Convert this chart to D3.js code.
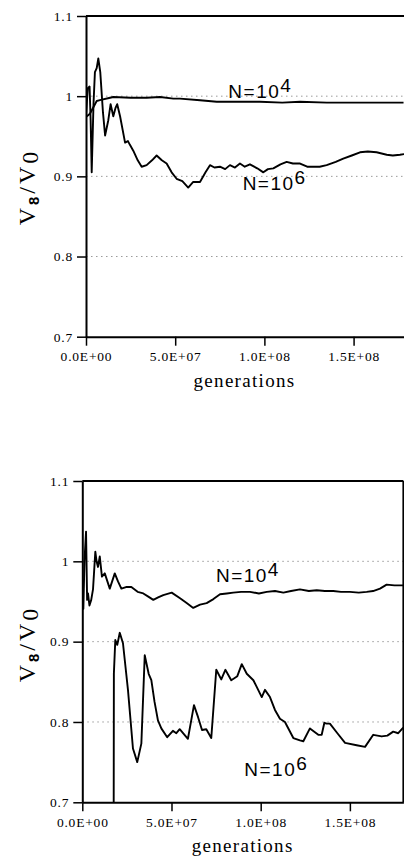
<!DOCTYPE html>
<html>
<head>
<meta charset="utf-8">
<script src="https://cdn.jsdelivr.net/npm/d3@7"></script>
<style>
  html, body { margin: 0; padding: 0; background: #fff; }
  svg { display: block; }
  .serif { font-family: "Liberation Serif", "Times New Roman", Times, "DejaVu Serif", serif; }
  .sans { font-family: "Liberation Sans", Arial, Helvetica, sans-serif; }
</style>
</head>
<body>
<svg id="chart" width="404" height="863"></svg>
<script>
// ---------- DATA ----------
const yTicks = [0.7, 0.8, 0.9, 1.0, 1.1];
const xTicks = [0, 5e7, 1e8, 1.5e8];
const gridValues = [0.8, 0.9, 1.0];
const seriesNames = ["N=10^4", "N=10^6"];

// Top panel, N = 10^4
const topN4Gen = [0, 0.22e7, 0.6e7, 0.78e7, 1.35e7, 1.53e7, 2.5e7, 3.4e7, 4.15e7, 4.9e7, 5.27e7, 6.39e7, 7.33e7, 8.5e7, 9.75e7, 11e7, 12e7, 13.5e7, 14.8e7, 16e7, 17.8e7];
const topN4Val = [0.974, 0.978, 0.994, 0.995, 0.998, 0.999, 0.998, 0.998, 0.999, 0.997, 0.997, 0.995, 0.993, 0.993, 0.993, 0.992, 0.993, 0.992, 0.992, 0.992, 0.992];

// Top panel, N = 10^6
const topN6Gen = [0, 0.1e7, 0.2e7, 0.26e7, 0.32e7, 0.42e7, 0.5e7, 0.6e7, 0.69e7, 0.8e7, 0.95e7, 1.07e7, 1.25e7, 1.38e7, 1.53e7, 1.65e7, 1.75e7, 1.91e7, 2.19e7, 2.35e7, 2.47e7, 2.65e7, 2.9e7, 3.12e7, 3.4e7, 3.7e7, 3.96e7, 4.25e7, 4.52e7, 4.8e7, 5.08e7, 5.4e7, 5.73e7, 6.01e7, 6.39e7, 6.7e7, 6.95e7, 7.2e7, 7.51e7, 7.8e7, 8.07e7, 8.35e7, 8.63e7, 8.9e7, 9.19e7, 9.6e7, 9.94e7, 10.2e7, 10.5e7, 10.9e7, 11.25e7, 11.6e7, 12e7, 12.4e7, 12.74e7, 13.1e7, 13.49e7, 14e7, 14.42e7, 14.9e7, 15.36e7, 15.8e7, 16.29e7, 16.86e7, 17.2e7, 17.6e7, 17.9e7];
const topN6Val = [0.975, 1.01, 1.012, 0.97, 0.905, 0.99, 1.03, 1.035, 1.047, 1.03, 0.98, 0.951, 0.97, 0.99, 0.975, 0.985, 0.99, 0.975, 0.942, 0.944, 0.939, 0.932, 0.92, 0.912, 0.914, 0.92, 0.926, 0.92, 0.916, 0.905, 0.897, 0.894, 0.886, 0.893, 0.893, 0.905, 0.914, 0.911, 0.912, 0.909, 0.914, 0.911, 0.916, 0.912, 0.915, 0.91, 0.905, 0.909, 0.91, 0.915, 0.918, 0.916, 0.916, 0.912, 0.912, 0.912, 0.914, 0.918, 0.922, 0.926, 0.93, 0.931, 0.93, 0.927, 0.926, 0.927, 0.928];

// Bottom panel, N = 10^4
const botN4Gen = [0, 0.06e7, 0.12e7, 0.21e7, 0.27e7, 0.32e7, 0.4e7, 0.5e7, 0.6e7, 0.73e7, 0.8e7, 0.88e7, 0.98e7, 1.1e7, 1.26e7, 1.54e7, 1.82e7, 2.0e7, 2.19e7, 2.45e7, 2.75e7, 3.1e7, 3.42e7, 3.7e7, 3.98e7, 4.25e7, 4.54e7, 5.01e7, 5.48e7, 5.85e7, 6.22e7, 6.6e7, 6.97e7, 7.35e7, 7.72e7, 8.1e7, 8.46e7, 8.9e7, 9.4e7, 9.9e7, 10.34e7, 10.8e7, 11.27e7, 11.7e7, 12.2e7, 12.7e7, 13.14e7, 13.6e7, 14.07e7, 14.5e7, 15e7, 15.5e7, 15.94e7, 16.3e7, 16.69e7, 17.06e7, 17.5e7, 18e7];
const botN4Val = [0.975, 0.941, 1.0, 1.037, 0.952, 0.96, 0.945, 0.952, 0.965, 1.012, 1.0, 0.993, 1.006, 0.981, 0.985, 0.966, 0.985, 0.975, 0.966, 0.968, 0.968, 0.962, 0.96, 0.956, 0.952, 0.955, 0.958, 0.961, 0.954, 0.948, 0.942, 0.946, 0.948, 0.953, 0.959, 0.96, 0.961, 0.962, 0.962, 0.96, 0.962, 0.963, 0.961, 0.963, 0.965, 0.963, 0.964, 0.963, 0.963, 0.962, 0.962, 0.961, 0.962, 0.963, 0.966, 0.971, 0.970, 0.970];

// Bottom panel, N = 10^6
const botN6Gen = [1.76e7, 1.77e7, 1.85e7, 1.96e7, 2.1e7, 2.28e7, 2.56e7, 2.84e7, 3.08e7, 3.31e7, 3.5e7, 3.72e7, 3.87e7, 4.05e7, 4.24e7, 4.43e7, 4.76e7, 5.08e7, 5.27e7, 5.46e7, 5.92e7, 6.26e7, 6.49e7, 6.71e7, 6.95e7, 7.23e7, 7.51e7, 7.79e7, 8.02e7, 8.35e7, 8.69e7, 8.94e7, 9.22e7, 9.59e7, 10.06e7, 10.24e7, 10.52e7, 10.8e7, 11.08e7, 11.36e7, 11.83e7, 12.2e7, 12.39e7, 12.76e7, 13.23e7, 13.42e7, 13.57e7, 13.7e7, 13.88e7, 14.3e7, 14.73e7, 15.38e7, 15.85e7, 16.31e7, 16.78e7, 17.1e7, 17.43e7, 17.71e7, 17.99e7];
const botN6Val = [0.69, 0.86, 0.902, 0.896, 0.911, 0.898, 0.84, 0.767, 0.75, 0.773, 0.883, 0.86, 0.852, 0.825, 0.802, 0.792, 0.781, 0.789, 0.786, 0.791, 0.779, 0.821, 0.806, 0.79, 0.791, 0.78, 0.865, 0.853, 0.865, 0.852, 0.857, 0.872, 0.86, 0.852, 0.831, 0.84, 0.831, 0.815, 0.804, 0.8, 0.78, 0.777, 0.776, 0.792, 0.784, 0.784, 0.799, 0.798, 0.798, 0.786, 0.774, 0.771, 0.769, 0.784, 0.782, 0.783, 0.788, 0.786, 0.793];

// label anchor points (data coordinates)
const topLabelGen = [7.98e7, 8.78e7];
const topLabelVal = [0.998, 0.8825];
const botLabelGen = [7.49e7, 9.08e7];
const botLabelVal = [0.9746, 0.733];

// ---------- DRAW ----------
const svg = d3.select("#chart");
const zip = (xs, ys) => xs.map((x, i) => [x, ys[i]]);

function fmtX(d) {
  if (d === 0) return "0.0E+00";
  const e = Math.floor(Math.log10(d));
  const m = d / Math.pow(10, e);
  return m.toFixed(1) + "E+" + String(e).padStart(2, "0");
}
function fmtY(d) { return Math.abs(d - 1) < 1e-9 ? "1" : d.toFixed(1); }

function panel(id, box, series, labelGen, labelVal, rightBorder) {
  const g = svg.append("g");
  const x = d3.scaleLinear().domain([0, 1.8e8]).range([box.left, box.right]);
  const y = d3.scaleLinear().domain([0.7, 1.1]).range([box.bottom, box.top]);

  svg.append("clipPath").attr("id", "clip" + id)
    .append("rect").attr("x", box.left).attr("y", box.top - 2)
    .attr("width", box.right - box.left).attr("height", box.bottom - box.top + 2);

  g.selectAll(".grid").data(gridValues).enter().append("line")
    .attr("x1", box.left).attr("x2", box.right)
    .attr("y1", d => y(d)).attr("y2", d => y(d))
    .attr("stroke", "#9a9a9a").attr("stroke-width", 1)
    .attr("stroke-dasharray", "1.5,3.5");

  const line = d3.line().x(d => x(d[0])).y(d => y(d[1]));
  g.append("g").attr("clip-path", `url(#clip${id})`)
    .selectAll("path").data(series).enter().append("path")
    .attr("d", d => line(d)).attr("fill", "none")
    .attr("stroke", "#000").attr("stroke-width", 1.9)
    .attr("stroke-linejoin", "round");

  const ya = g.append("g").attr("transform", `translate(${box.left},0)`)
    .call(d3.axisLeft(y).tickValues(yTicks).tickFormat(fmtY).tickSize(9).tickSizeOuter(0).tickPadding(4));
  const xa = g.append("g").attr("transform", `translate(0,${box.bottom})`)
    .call(d3.axisBottom(x).tickValues(xTicks).tickFormat(fmtX).tickSize(9).tickSizeOuter(0).tickPadding(6));
  [ya, xa].forEach(a => {
    a.attr("font-family", null).attr("font-size", null);
    a.select(".domain").attr("stroke-width", 2);
    a.selectAll(".tick line").attr("stroke-width", 1.5);
    a.selectAll("text").attr("class", "serif")
      .style("font-size", "13.5px").style("letter-spacing", "0.8px").attr("fill", "#000");
  });
  g.append("line").attr("x1", box.left).attr("x2", box.right)
    .attr("y1", y(1.1)).attr("y2", y(1.1)).attr("stroke", "#000").attr("stroke-width", 2);
  if (rightBorder) {
    g.append("line").attr("x1", box.right).attr("x2", box.right)
      .attr("y1", y(1.1)).attr("y2", y(0.7)).attr("stroke", "#000").attr("stroke-width", 2);
  }

  const sups = ["4", "6"];
  labelGen.forEach((lg, i) => {
    const t = g.append("text").attr("class", "sans").attr("x", x(lg)).attr("y", y(labelVal[i]))
      .style("font-size", "19px").style("letter-spacing", "1.5px").attr("fill", "#000");
    t.append("tspan").text("N=10");
    t.append("tspan").attr("dy", -6).text(sups[i]);
  });

  g.append("text").attr("class", "serif").attr("x", (box.left + 403) / 2).attr("y", box.bottom + 50)
    .attr("text-anchor", "middle")
    .style("font-size", "19px").style("letter-spacing", "1.3px").text("generations");

  const yt = g.append("text").attr("class", "serif")
    .attr("transform", `translate(35,${box.labelY}) rotate(-90)`)
    .attr("text-anchor", "middle")
    .style("font-size", "24px").style("letter-spacing", "3px").attr("fill", "#000");
  yt.append("tspan").text("V");
  yt.append("tspan").attr("class", "sans").attr("dy", 4)
    .style("font-weight", "bold").style("font-size", "15px").text("8");
  yt.append("tspan").attr("dy", -4).text("/V");
  yt.append("tspan").attr("dy", 3).text("0");
}

panel("top", { left: 86, right: 407.1, top: 16, bottom: 336.7, labelY: 187 },
  [zip(topN4Gen, topN4Val), zip(topN6Gen, topN6Val)], topLabelGen, topLabelVal, false);
panel("bot", { left: 82.3, right: 403.4, top: 481, bottom: 802.3, labelY: 644 },
  [zip(botN4Gen, botN4Val), zip(botN6Gen, botN6Val)], botLabelGen, botLabelVal, true);
</script>
</body>
</html>
